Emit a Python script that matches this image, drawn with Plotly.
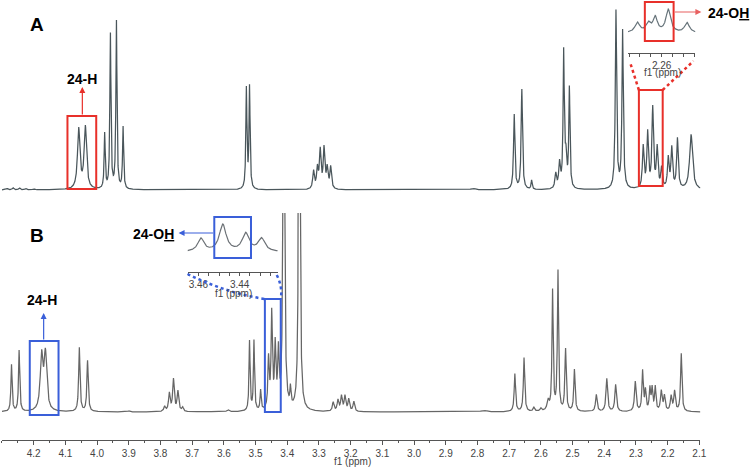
import numpy as np
import plotly.graph_objects as go

W, H = 756, 467

# ---------------------------------------------------------------
# peak lists: shift (ppm), height, half width (ppm)
# ---------------------------------------------------------------
a_ppm = [4.285, 4.265, 4.245, 4.225, 4.200,
         4.058, 4.037,
         3.976, 3.958, 3.939, 3.918,
         3.529, 3.519,
         3.317, 3.305, 3.296, 3.284, 3.274, 3.263,
         2.814,
         2.684, 2.660, 2.629,
         2.553, 2.541, 2.528, 2.521, 2.510,
         2.363, 2.342,
         2.277, 2.263, 2.247, 2.233, 2.219, 2.198, 2.187, 2.169, 2.126]
a_height = [1.5, 2, 2, 1.5, 1,
            60, 62,
            55, 155, 168, 62,
            100, 102,
            18, 20, 38, 40, 20, 22,
            1.5,
            75, 100, 9,
            15, 25, 135, 30, 100,
            178, 158,
            42, 55, 80, 40, 20, 30, 40, 50, 55]
a_width = [0.004, 0.003, 0.003, 0.003, 0.003,
           0.0045, 0.0045,
           0.002, 0.002, 0.002, 0.002,
           0.002, 0.002,
           0.003, 0.003, 0.003, 0.003, 0.003, 0.003,
           0.008,
           0.0025, 0.0025, 0.002,
           0.003, 0.003, 0.0022, 0.003, 0.0022,
           0.0025, 0.0025,
           0.003, 0.003, 0.003, 0.003, 0.003, 0.003, 0.003, 0.003, 0.0055]

b_ppm = [4.270, 4.246,
         4.175, 4.163,
         4.056, 4.030,
         3.900,
         3.787, 3.772, 3.759, 3.745, 3.730,
         3.587,
         3.519, 3.505, 3.484,
         3.459, 3.449, 3.438, 3.428,
         3.411, 3.390, 3.362,
         3.255, 3.240, 3.229, 3.218, 3.206, 3.190,
         2.780,
         2.682, 2.653, 2.622, 2.600,
         2.577, 2.563, 2.546, 2.522, 2.494,
         2.425, 2.392, 2.364,
         2.302, 2.279, 2.270, 2.256, 2.249, 2.239, 2.220, 2.210, 2.189, 2.178, 2.157]
b_height = [47, 61,
            54, 56,
            64, 51,
            1,
            5, 18, 32, 20, 4,
            2,
            70, 70, 20,
            50, 95, 62, 55,
            700, 18, 700,
            9, 11, 15, 15, 12, 10,
            1.5,
            38, 54, 4, 3,
            10, 120, 140, 62, 42,
            17, 33, 27,
            30, 40, 20, 22, 22, 24, 20, 15, 15, 20, 58]
b_width = [0.0022, 0.0022,
           0.005, 0.005,
           0.0025, 0.0025,
           0.004,
           0.003, 0.003, 0.003, 0.003, 0.003,
           0.004,
           0.002, 0.002, 0.002,
           0.0025, 0.0025, 0.0025, 0.0025,
           0.002, 0.002, 0.002,
           0.003, 0.003, 0.003, 0.003, 0.003, 0.003,
           0.01,
           0.0025, 0.0025, 0.003, 0.003,
           0.004, 0.0022, 0.0022, 0.0025, 0.0025,
           0.003, 0.003, 0.003,
           0.003, 0.0025, 0.0025, 0.0025, 0.0025, 0.0025, 0.003, 0.003, 0.003, 0.003, 0.0025]

# zoomed insets
ia_ppm = [2.2712, 2.2662, 2.2630, 2.2570, 2.2484]
ia_height = [10, 9, 15, 23, 10]
ia_width = [0.0013, 0.0013, 0.0012, 0.0013, 0.0013]

ib_ppm = [3.4588, 3.4482, 3.4371, 3.4294]
ib_height = [13, 27, 18, 13]
ib_width = [0.0018, 0.0020, 0.0020, 0.0020]

main_ticks = [4.2, 4.1, 4.0, 3.9, 3.8, 3.7, 3.6, 3.5, 3.4, 3.3, 3.2, 3.1,
              3.0, 2.9, 2.8, 2.7, 2.6, 2.5, 2.4, 2.3, 2.2, 2.1]
ia_ticks = [2.275, 2.270, 2.265, 2.260, 2.255, 2.250, 2.245]
ia_labels = ["", "", "", "2.26", "", "", ""]
ib_ticks = [3.465, 3.460, 3.455, 3.450, 3.445, 3.440, 3.435, 3.430, 3.425]
ib_labels = ["", "3.46", "", "", "", "3.44", "", "", ""]


def spectrum(x, centers, heights, widths):
    y = np.zeros_like(x)
    for c, h, w in zip(centers, heights, widths):
        y += h / (1 + ((x - c) / w) ** 2)
    return y


def px(x):
    return x / W


def py(y):
    return 1 - y / H


RANGE_MAIN = [4.300, 2.0966]
x_main = np.linspace(4.300, 2.0966, 8000)
x_ia = np.linspace(2.2755, 2.2445, 600)
x_ib = np.linspace(3.4653, 3.4215, 600)

fig = go.Figure()
fig.add_trace(go.Scatter(x=x_main, y=spectrum(x_main, a_ppm, a_height, a_width),
                         mode="lines", line=dict(color="#4a565b", width=1.25),
                         xaxis="x", yaxis="y"))
fig.add_trace(go.Scatter(x=x_main, y=spectrum(x_main, b_ppm, b_height, b_width),
                         mode="lines", line=dict(color="#666666", width=1.25),
                         xaxis="x2", yaxis="y2"))
fig.add_trace(go.Scatter(x=x_ia, y=spectrum(x_ia, ia_ppm, ia_height, ia_width),
                         mode="lines", line=dict(color="#66737a", width=1.2),
                         xaxis="x3", yaxis="y3"))
fig.add_trace(go.Scatter(x=x_ib, y=spectrum(x_ib, ib_ppm, ib_height, ib_width),
                         mode="lines", line=dict(color="#6b7075", width=1.2),
                         xaxis="x4", yaxis="y4"))

hidden = dict(visible=False, fixedrange=True)
tickfont = dict(family="Arial", size=10, color="#444")

fig.update_layout(
    width=W, height=H,
    margin=dict(l=0, r=0, t=0, b=0),
    paper_bgcolor="white", plot_bgcolor="rgba(0,0,0,0)",
    showlegend=False,
    xaxis=dict(domain=[px(2), px(706)], range=RANGE_MAIN, **hidden),
    yaxis=dict(domain=[py(200), 1], range=[-10, 190], **hidden),
    xaxis2=dict(domain=[px(2), px(706)], range=RANGE_MAIN, anchor="free",
                position=py(440), showline=True, linecolor="#555", linewidth=1,
                showgrid=False, zeroline=False, tickmode="array", tickvals=main_ticks,
                tickformat=".1f", ticks="outside", ticklen=4, tickcolor="#555",
                minor=dict(dtick=0.05, tick0=2.1, ticks="outside", ticklen=2, tickcolor="#555"),
                tickfont=tickfont),
    yaxis2=dict(domain=[py(420), py(213)], range=[-8, 199], anchor="x2", **hidden),
    xaxis3=dict(domain=[px(633), px(701)], range=[2.2755, 2.2445], anchor="free",
                position=py(53), showline=True, linecolor="#555", linewidth=1,
                showgrid=False, zeroline=False, tickmode="array", tickvals=ia_ticks,
                ticktext=ia_labels, ticks="outside", ticklen=3, tickcolor="#555",
                tickfont=tickfont),
    yaxis3=dict(domain=[py(45), 1], range=[-12, 33], anchor="x3", **hidden),
    xaxis4=dict(domain=[px(189), px(280)], range=[3.4653, 3.4215], anchor="free",
                position=py(272), showline=True, linecolor="#555", linewidth=1,
                showgrid=False, zeroline=False, tickmode="array", tickvals=ib_ticks,
                ticktext=ib_labels, ticks="outside", ticklen=3, tickcolor="#555",
                tickfont=tickfont),
    yaxis4=dict(domain=[py(260), py(215)], range=[-8, 37], anchor="x4", **hidden),
)

RED = "#e8302a"
BLUE = "#3a5fd9"


def box(x0, y0, x1, y1, color):
    fig.add_shape(type="rect", xref="paper", yref="paper",
                  x0=px(x0), x1=px(x1), y0=py(y0), y1=py(y1),
                  line=dict(color=color, width=2))


def dotted(path, color):
    fig.add_shape(type="path", xref="paper", yref="paper", path=path,
                  line=dict(color=color, width=2.5, dash="dot"))


def ppath(points, quad=False):
    pts = [f"{px(x):.5f},{py(y):.5f}" for x, y in points]
    if quad:
        return f"M {pts[0]} Q {pts[1]} {pts[2]}"
    return "M " + " L ".join(pts)


box(68, 116, 97, 189, RED)
box(644, 90, 668, 186, RED)
box(650, 2, 679, 41, RED)
dotted(ppath([(644, 90), (635, 62)]), RED)
dotted(ppath([(668, 90), (699, 61)]), RED)

box(30, 341, 59, 415, BLUE)
box(267, 299, 283, 412, BLUE)
box(216, 217, 253, 258, BLUE)
dotted(ppath([(189, 274), (228, 293), (267, 299)], quad=True), BLUE)
dotted(ppath([(279, 275), (285, 287), (283, 299)], quad=True), BLUE)


def arrow(x_head, y_head, x_tail, y_tail, color):
    fig.add_annotation(xref="paper", yref="paper", x=px(x_head), y=py(y_head),
                       ax=x_tail - x_head, ay=y_tail - y_head, text="",
                       showarrow=True, arrowhead=2, arrowsize=1, arrowwidth=1.2,
                       arrowcolor=color)


arrow(83, 87, 83, 116, RED)
arrow(707, 12, 679, 12, "#e86060")
arrow(44, 313, 44, 341, BLUE)
arrow(180, 233, 216, 233, BLUE)


def label(x, y, text, size=14, color="black", bold=True):
    fig.add_annotation(xref="paper", yref="paper", x=px(x), y=py(y),
                       text=f"<b>{text}</b>" if bold else text, showarrow=False,
                       font=dict(family="Arial", size=size, color=color),
                       xanchor="center", yanchor="middle")


label(37, 25, "A", size=19)
label(37, 235, "B", size=19)
label(83, 79, "24-H")
label(42, 300, "24-H")
label(734, 13, "24-O<u>H</u>")
label(155, 234, "24-O<u>H</u>")
label(355, 461, "f1 (ppm)", size=10, color="#444", bold=False)
label(668, 72, "f1 (ppm)", size=10, color="#444", bold=False)
label(235, 293, "f1 (ppm)", size=10, color="#444", bold=False)

# the page body has a default 8px margin; remove it so the figure fills the window
fig.write_html("out.html", config={"displayModeBar": False},
               post_script="document.body.style.margin='0';document.body.style.overflow='hidden';")
